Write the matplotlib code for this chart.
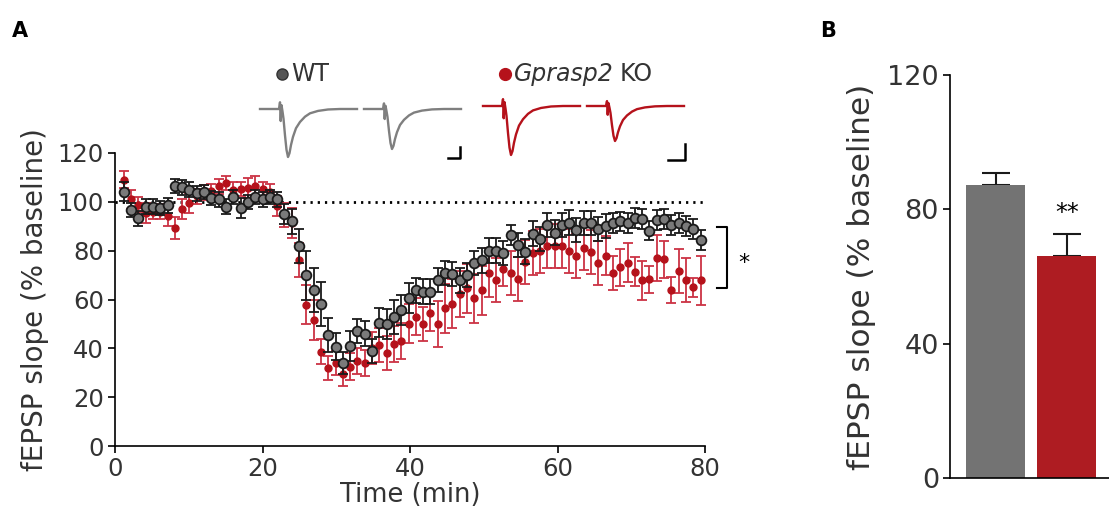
import numpy as np
import matplotlib
matplotlib.use("Agg")
import matplotlib.pyplot as plt
from matplotlib.lines import Line2D

plt.rcParams['font.family'] = ['DejaVu Sans']

# ---------------------------------------------------------------------------
# DATA
# ---------------------------------------------------------------------------
time_min = np.arange(1, 81) * 0.99 + 0.2

wt_mean = [104.2, 96.7, 93.3, 98, 98, 97.5, 98.5, 106.5, 106, 105,
           103.5, 104, 101.5, 101, 98, 102, 97.5, 100, 102, 101,
           102, 101, 95, 92, 82, 70, 64, 58, 45.5, 40.7,
           34, 41, 47, 46, 39, 50.5, 50, 53, 55.7, 60.6,
           63.7, 63.2, 63.2, 68, 70.8, 70.5, 67.8, 70, 75, 76,
           80, 80, 79, 86.5, 82.4, 79.6, 87, 84.7, 90.6, 87.4,
           90.6, 91.5, 88.5, 91.3, 91.3, 88.8, 90, 91.3, 92, 91.3,
           93.3, 92.9, 88.2, 92.6, 92.9, 90.6, 91.3, 90.2, 88.8, 84.4]
wt_sem = [4, 3, 3, 3, 3, 3, 3, 3, 3, 3,
          3, 3, 3, 3, 3, 3, 4, 3, 3, 3,
          3, 3, 4, 5, 7, 10, 9, 9, 7, 5.5,
          4.5, 6, 5, 5, 5, 6, 6, 7, 6, 6,
          5, 5, 5, 5, 5, 5, 5, 5, 5, 5,
          5, 5, 5, 4, 5, 5, 5, 5, 5, 5,
          5, 5, 5, 5, 5, 5, 5, 4, 4, 4,
          4, 4, 4, 4, 4, 4, 4, 4, 4, 4]

ko_mean = [109, 101, 98.8, 95.4, 96, 96, 94, 89.2, 97, 99.5,
           102.2, 103.8, 104.5, 106.3, 107.7, 105, 105.2, 105.6, 106.6, 105.2,
           104.2, 98.4, 94.7, 91.3, 76.2, 57.8, 51.6, 38.7, 32, 34,
           29.5, 32.5, 34.8, 34, 40, 41.4, 38, 41.8, 43, 50,
           53, 50, 54.6, 50, 56.4, 58.2, 62.3, 64.6, 60.5, 63.7,
           71, 67.8, 72.4, 71, 68.3, 75.5, 79.2, 80, 82, 82,
           82, 80, 77.9, 81, 79.6, 74.9, 77.9, 71, 73.2, 75.1,
           71.4, 67.8, 68.3, 76.9, 76.5, 63.9, 71.8, 67.8, 65, 67.8]
ko_sem = [3.5, 4, 3, 4, 3, 3, 4, 4.5, 4, 4,
          3, 3, 3, 3, 3, 3, 3, 4, 4, 3,
          3, 4, 5, 6, 7, 8, 8, 5, 5, 5,
          5, 5.5, 5.5, 5.5, 6.5, 7, 7, 7.5, 7.5, 8,
          7.5, 7, 7.5, 9.5, 10, 10, 9.5, 10, 10, 10,
          10, 9, 7, 9, 9, 9, 9, 9, 9, 9,
          9, 9, 9, 9, 9, 9, 8, 7, 7.5, 8,
          6, 8, 5.5, 9.5, 7.5, 5.5, 9, 9, 4, 10]

# panel B: last 10 min average
groups = ["WT", "KO"]
bar_mean = [87.2, 66.2]
bar_sem = [3.7, 6.5]

# example traces (normalised shape)
trace_t = [0, 19, 20, 20.7, 21.5, 22.5, 23.5, 25, 26.5, 28, 29.5, 31, 33, 36, 40,
           45, 50, 58, 68, 80, 97]
trace_v = [0, 0, 0.14, -0.25, 0.08, -0.05, -0.2, -0.55, -0.85, -1.0, -0.92, -0.75,
           -0.58, -0.4, -0.27, -0.16, -0.09, -0.04, -0.01, 0, 0]
wt_peaks = [48, 40]
ko_peaks = [49, 35]

# ---------------------------------------------------------------------------
# COLOR
# ---------------------------------------------------------------------------
grey = "#7a7a7a"
red = "#b5121b"
red_err = "#cc3344"
txt = "#333333"

W, H = 1109, 519
fig = plt.figure(figsize=(W / 100, H / 100), dpi=100)

# ---------------------------------------------------------------------------
# PANEL A
# ---------------------------------------------------------------------------
ax = fig.add_axes([115 / W, (H - 446) / H, 590 / W, 293 / H])
ax.plot([0, 80], [100, 100], ls=(0, (0.8, 1.8)), color="k", lw=2, zorder=1)
ax.errorbar(time_min, ko_mean, yerr=ko_sem, fmt="o", ms=5, mfc=red, mec=red,
            ecolor=red_err, elinewidth=1.3, capsize=3.5, capthick=1.3,
            zorder=2, clip_on=False)
ax.errorbar(time_min, wt_mean, yerr=wt_sem, fmt="o", ms=7, mfc=grey, mec="#1a1a1a",
            mew=1.3, ecolor="#1a1a1a", elinewidth=1.3, capsize=3.5, capthick=1.3,
            zorder=3, clip_on=False)

ax.set_xlim(0, 80)
ax.set_ylim(0, 120)
ax.set_xticks([0, 20, 40, 60, 80])
ax.set_yticks([0, 20, 40, 60, 80, 100, 120])
for s in ["top", "right"]:
    ax.spines[s].set_visible(False)
for s in ["left", "bottom"]:
    ax.spines[s].set_linewidth(1.2)
ax.tick_params(length=5, width=1.2, labelsize=17.5, labelcolor=txt, pad=3)
ax.set_xlabel("Time (min)", fontsize=18.5, color=txt, labelpad=1)
ax.set_ylabel("fEPSP slope (% baseline)", fontsize=20, color=txt, labelpad=6)

# significance bracket
ax.plot([81.6, 83, 83, 81.6], [89.8, 89.8, 64.8, 64.8], color="k", lw=1.5, clip_on=False)
ax.text(85.3, 75, "*", fontsize=16, ha="center", va="center", color="k")

# ---------------------------------------------------------------------------
# TRACES + LEGEND
# ---------------------------------------------------------------------------
def traces(left, base, peaks, color, bar_x, bar_h, bar_w):
    ins = fig.add_axes([left / W, (H - 165) / H, 212 / W, 72 / H])
    ins.set_xlim(0, 212)
    ins.set_ylim(-(165 - base), base - 93)
    for k, pk in enumerate(peaks):
        off = 5 + k * 104
        ins.plot(np.array(trace_t) + off, np.array(trace_v) * pk, color=color, lw=1.7,
                 solid_joinstyle="round")
    ins.plot([bar_x - bar_w, bar_x, bar_x], [-(bar_h + 38), -(bar_h + 38), -38],
             color="k", lw=1.8)
    ins.axis("off")

traces(255, 109, wt_peaks, "#7f7f7f", 205, 11, 12)
traces(478, 106, ko_peaks, red, 207, 16, 17)

fig.add_artist(Line2D([282 / W], [1 - 74 / H], marker="o", ms=8, mfc="#555555",
                      mec="#333333", transform=fig.transFigure))
fig.text(291 / W, 1 - 74 / H, "WT", fontsize=17, color=txt, va="center")
fig.add_artist(Line2D([505 / W], [1 - 74 / H], marker="o", ms=8.5, mfc=red,
                      mec=red, transform=fig.transFigure))
gt = fig.text(514 / W, 1 - 74 / H, "Gprasp2", fontsize=17, color=txt, va="center",
              style="italic")
bb = gt.get_window_extent(renderer=fig.canvas.get_renderer())
fig.text(bb.x1 / W + 6 / W, 1 - 74 / H, "KO", fontsize=17, color=txt, va="center")

# ---------------------------------------------------------------------------
# PANEL B
# ---------------------------------------------------------------------------
bx = fig.add_axes([950 / W, (H - 478) / H, 160 / W, 403 / H])
xpos = np.arange(len(groups))
bx.bar(xpos, bar_mean, width=0.837, color=["#737373", "#ae1c22"], zorder=2)
bx.errorbar(xpos, bar_mean, yerr=[[0, 0], bar_sem], fmt="none", ecolor="#1a1a1a",
            elinewidth=1.5, capsize=10, capthick=1.5, zorder=1)
bx.text(1, 79, "**", fontsize=17, ha="center", va="center", color="k")
bx.set_xlim(-0.645, 1.61)
bx.set_ylim(0, 120)
bx.set_yticks([0, 40, 80, 120])
bx.set_xticks([])
for s in ["top", "right"]:
    bx.spines[s].set_visible(False)
for s in ["left", "bottom"]:
    bx.spines[s].set_linewidth(1.2)
bx.tick_params(length=5, width=1.2, labelsize=19.5, labelcolor=txt, pad=3)
bx.set_ylabel("fEPSP slope (% baseline)", fontsize=22.5, color=txt, labelpad=8)

# panel letters
fig.text(20 / W, 1 - 31 / H, "A", fontsize=15, fontweight="bold", ha="center", va="center")
fig.text(828 / W, 1 - 31 / H, "B", fontsize=15, fontweight="bold", ha="center", va="center")

fig.savefig("out.png", dpi=100)
